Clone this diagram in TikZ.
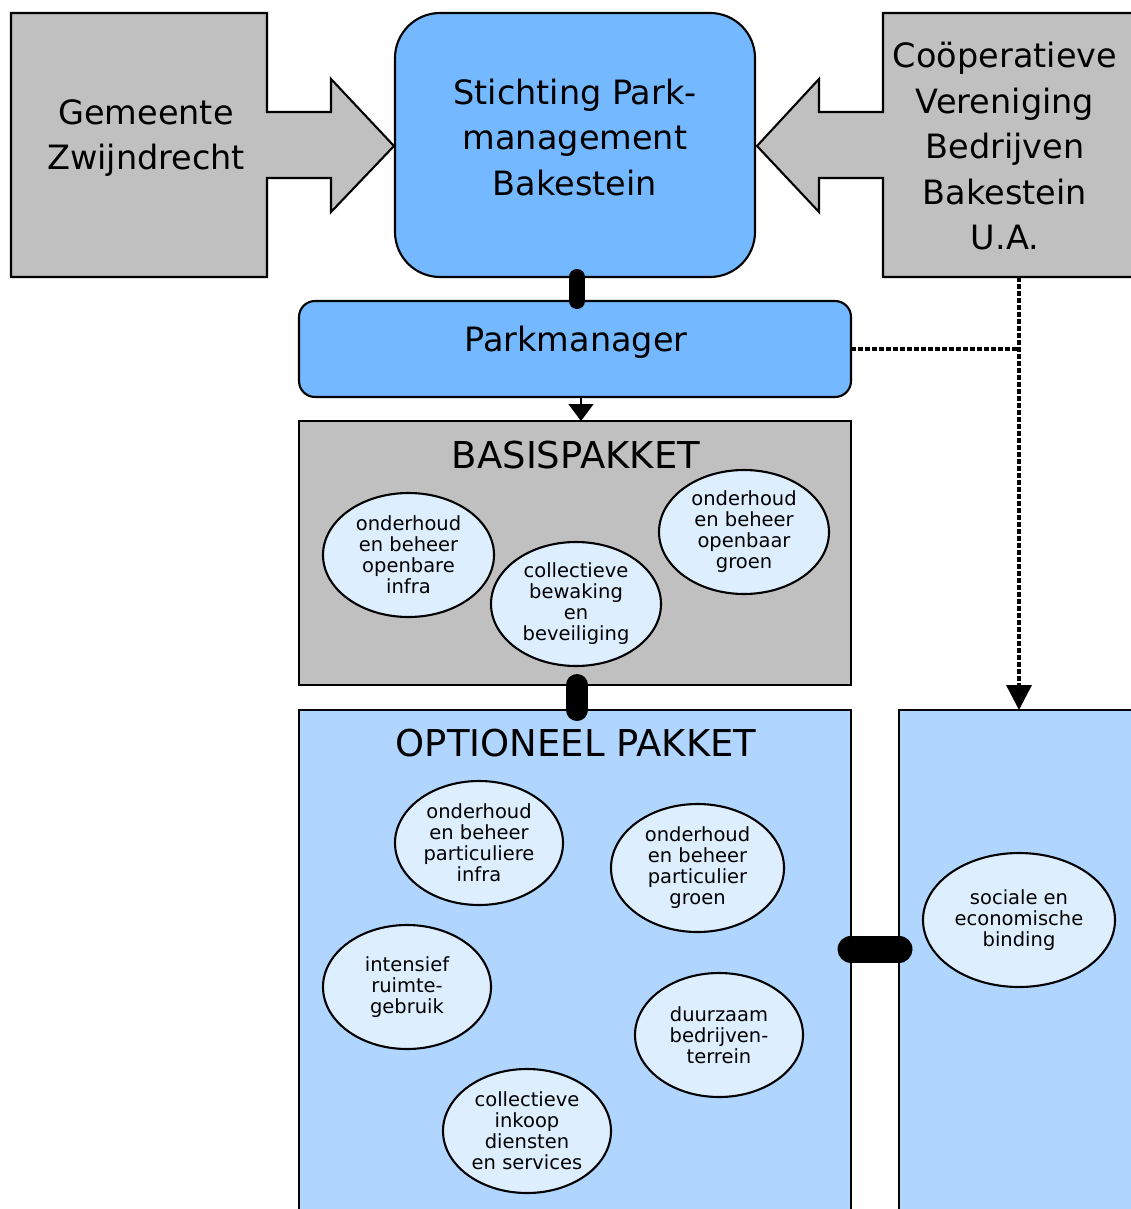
\documentclass[tikz,border=0pt]{standalone}
\usepackage{fontspec}
\setmainfont{DejaVu Sans}
\usetikzlibrary{arrows.meta,shapes.geometric,calc}
\definecolor{boxgray}{HTML}{C0C0C0}
\definecolor{midblue}{HTML}{74B8FF}
\definecolor{lightblue}{HTML}{B0D6FF}
\definecolor{paleblue}{HTML}{DDEEFF}
\begin{document}
\begin{tikzpicture}[x=1pt,y=-1pt,
 outline/.style={draw=black,line width=2.1pt},
 bigtext/.style={font=\fontsize{33.5}{45.5}\selectfont,align=center,inner sep=0pt},
 titletext/.style={font=\fontsize{37}{42}\selectfont,inner sep=0pt},
 bubble/.style={ellipse,outline,fill=paleblue,inner sep=0pt,align=center,font=\fontsize{19.5}{21}\selectfont},
 area/.style={rectangle,inner sep=0pt,outer sep=0pt},
 bar/.style={line width=#1,line cap=round},
 dotline/.style={line width=3.6pt,dash pattern=on 5pt off 2pt},
]
\useasboundingbox (0,0) rectangle (1131,1209);
\clip (0,0) rectangle (1131,1209);
\fill[white] (0,0) rectangle (1131,1209);

% top left: Gemeente with arrow
\filldraw[outline,fill=boxgray,line join=miter] (11,13) -- (267,13) -- (267,112) -- (331,112) -- (331,79) -- (394,146) -- (331,212) -- (331,178) -- (267,178) -- (267,277) -- (11,277) -- cycle;
\node[area,minimum width=256pt,minimum height=264pt] (gembox) at (139,145) {};
\node[bigtext] (gem) at (146,138) {Gemeente\\Zwijndrecht};

% top right: Cooperatieve with arrow
\filldraw[outline,fill=boxgray,line join=miter] (1140,13) -- (883,13) -- (883,112) -- (819,112) -- (819,79) -- (757,146) -- (819,212) -- (819,178) -- (883,178) -- (883,277) -- (1140,277) -- cycle;
\node[area,minimum width=257pt,minimum height=264pt] (coopbox) at (1011.5,145) {};
\node[bigtext] (coop) at (1005,146.5) {Coöperatieve\\Vereniging\\Bedrijven\\Bakestein\\U.A.};

% Stichting
\node[area,outline,fill=midblue,rounded corners=45pt,minimum width=360pt,minimum height=264pt] (stich) at (575,145) {};
\node[bigtext] (stichtext) at (575,137.5) {Stichting Park-\\management\\Bakestein};

% Parkmanager
\node[area,outline,fill=midblue,rounded corners=16pt,minimum width=552pt,minimum height=96pt] (pm) at (575,349) {};
\node[bigtext] (pmtext) at (576,342) {Parkmanager};

% Basispakket
\node[area,outline,fill=boxgray,minimum width=552pt,minimum height=264pt] (bas) at (575,553) {};
\node[titletext] (bastitle) at (576,455) {BASISPAKKET};

% Optioneel pakket
\node[area,outline,fill=lightblue,minimum width=552pt,minimum height=510pt] (opt) at (575,965) {};
\node[titletext] (opttitle) at (576,743) {OPTIONEEL PAKKET};

% right box
\node[area,outline,fill=lightblue,minimum width=241pt,minimum height=510pt] (rb) at (1019.5,965) {};

% bubbles basispakket
\node[bubble,minimum width=171pt,minimum height=124pt] (b1) at (408.5,555) {onderhoud\\en beheer\\openbare\\infra};
\node[bubble,minimum width=170pt,minimum height=124pt] (b2) at (576,604) {collectieve\\bewaking\\en\\beveiliging};
\node[bubble,minimum width=170pt,minimum height=124pt] (b3) at (744,532) {onderhoud\\en beheer\\openbaar\\groen};

% bubbles optioneel
\node[bubble,minimum width=168pt,minimum height=124pt] (o1) at (479,843) {onderhoud\\en beheer\\particuliere\\infra};
\node[bubble,minimum width=173pt,minimum height=128pt] (o2) at (697.5,868) {onderhoud\\en beheer\\particulier\\groen};
\node[bubble,minimum width=168pt,minimum height=124pt] (o3) at (407,987) {intensief\\ruimte-\\gebruik};
\node[bubble,minimum width=168pt,minimum height=124pt] (o4) at (719,1035) {duurzaam\\bedrijven-\\terrein};
\node[bubble,minimum width=168pt,minimum height=124pt] (o5) at (527,1131) {collectieve\\inkoop\\diensten\\en services};

% right bubble
\node[bubble,minimum width=192pt,minimum height=134pt] (soc) at (1019,920) {sociale en\\economische\\binding};

% connectors
\draw[bar=16pt] ([xshift=2pt]stich.south) -- ([xshift=2pt]pm.north);
\draw[bar=22pt] ([xshift=2pt]bas.south) -- ([xshift=2pt]opt.north);
\coordinate (barlevel) at (875,949);
\draw[bar=27pt] (opt.east |- barlevel) -- (rb.west |- barlevel);
\draw[line width=2pt,-{Triangle[width=25pt,length=17pt]}] ([xshift=6pt]pm.south) -- ([xshift=6pt]bas.north);

\coordinate (junc) at (1019,349);
\draw[dotline] (pm.east) -- (junc);
\draw[dotline,-{Triangle[width=25pt,length=25pt]}] (coopbox.south -| junc) -- (rb.north -| junc);
\end{tikzpicture}
\end{document}
